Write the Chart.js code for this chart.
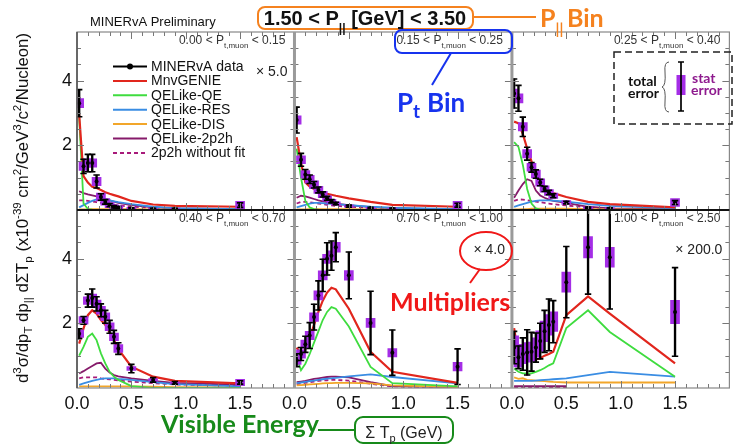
<!DOCTYPE html>
<html>
<head>
<meta charset="utf-8">
<script src="https://cdn.jsdelivr.net/npm/chart.js@4.4.1/dist/chart.umd.min.js"></script>
<style>
  html, body { margin: 0; padding: 0; background: #fff; }
  #wrap { position: relative; width: 735px; height: 445px; }
</style>
</head>
<body>
<div id="wrap"><canvas id="sumTpChart" width="735" height="445"></canvas></div>
<script>
// sum of proton kinetic energy, bin centres (GeV)
const sumTp = [0.02, 0.06, 0.10, 0.14, 0.18, 0.22, 0.26, 0.30, 0.34, 0.38, 0.5, 0.7, 0.9, 1.5];
const ptEdges = ['0.00', '0.15', '0.25', '0.40', '0.70', '1.00', '2.50'];
const multipliers = ['× 5.0', '', '', '', '× 4.0', '× 200.0'];
const xTickLabels = [0, 0.5, 1.0, 1.5];
const yTickLabels = [2, 4];
const seriesLabels = ['MINERvA data', 'MnvGENIE', 'QELike-QE', 'QELike-RES', 'QELike-DIS', 'QELike-2p2h', '2p2h without fit'];

// 0.00 < pt < 0.15 (values shown x5)
const data1     = [3.30, 1.35, 1.45, 1.45, 0.88, 0.40, 0.25, 0.15, 0.10, 0.08, 0.05, 0.03, 0.03, 0.15];
const totErr1   = [0.42, 0.22, 0.27, 0.27, 0.20, 0.10, 0.07, 0.05, 0.04, 0.03, 0.02, 0.02, 0.02, 0.07];
const statErr1  = [0.14, 0.13, 0.13, 0.13, 0.13, 0.12, 0.10, 0.08, 0.06, 0.05, 0.03, 0.02, 0.02, 0.12];
const genie1    = [2.95, 1.05, 0.85, 0.72, 0.68, 0.62, 0.55, 0.50, 0.46, 0.42, 0.28, 0.17, 0.13, 0.10];
const qe1       = [2.85, 0.20, 0.03, 0.01, 0, 0, 0, 0, 0, 0, 0, 0, 0, 0];
const res1      = [0.08, 0.15, 0.22, 0.28, 0.33, 0.35, 0.33, 0.30, 0.27, 0.24, 0.18, 0.10, 0.06, 0.03];
const dis1      = [0.02, 0.02, 0.02, 0.03, 0.03, 0.03, 0.03, 0.03, 0.03, 0.03, 0.03, 0.02, 0.02, 0.01];
const mec1      = [0.58, 0.52, 0.48, 0.45, 0.42, 0.38, 0.34, 0.30, 0.26, 0.22, 0.15, 0.08, 0.05, 0.03];
const mecNoFit1 = [0.30, 0.30, 0.28, 0.26, 0.24, 0.22, 0.20, 0.18, 0.16, 0.14, 0.10, 0.06, 0.04, 0.02];

// 0.15 < pt < 0.25
const data2     = [2.78, 1.55, 1.10, 0.95, 0.78, 0.62, 0.48, 0.36, 0.27, 0.20, 0.12, 0.06, 0.04, 0.15];
const totErr2   = [0.40, 0.20, 0.15, 0.13, 0.10, 0.09, 0.08, 0.06, 0.05, 0.04, 0.03, 0.02, 0.02, 0.06];
const statErr2  = [0.13, 0.12, 0.12, 0.12, 0.12, 0.11, 0.10, 0.08, 0.06, 0.05, 0.03, 0.02, 0.02, 0.12];
const genie2    = [2.25, 1.45, 0.85, 0.72, 0.65, 0.60, 0.55, 0.50, 0.47, 0.44, 0.36, 0.25, 0.16, 0.10];
const qe2       = [1.90, 1.00, 0.28, 0.08, 0.03, 0.01, 0, 0, 0, 0, 0, 0, 0, 0];
const res2      = [0.08, 0.12, 0.16, 0.20, 0.22, 0.22, 0.21, 0.20, 0.19, 0.18, 0.15, 0.10, 0.07, 0.03];
const dis2      = [0.02, 0.02, 0.02, 0.03, 0.03, 0.03, 0.03, 0.03, 0.03, 0.03, 0.03, 0.02, 0.02, 0.01];
const mec2      = [0.38, 0.44, 0.42, 0.38, 0.34, 0.30, 0.27, 0.24, 0.22, 0.20, 0.15, 0.09, 0.05, 0.02];
const mecNoFit2 = [0.20, 0.25, 0.25, 0.24, 0.22, 0.20, 0.18, 0.16, 0.14, 0.13, 0.10, 0.06, 0.04, 0.02];

// 0.25 < pt < 0.40
const data3     = [3.60, 3.45, 2.57, 1.74, 1.32, 1.11, 0.85, 0.65, 0.54, 0.44, 0.23, 0.07, 0.05, 0.23];
const totErr3   = [0.45, 0.40, 0.30, 0.20, 0.15, 0.13, 0.10, 0.08, 0.07, 0.06, 0.04, 0.02, 0.02, 0.06];
const statErr3  = [0.14, 0.14, 0.13, 0.13, 0.12, 0.12, 0.11, 0.10, 0.09, 0.08, 0.06, 0.03, 0.02, 0.12];
const genie3    = [2.73, 2.68, 2.35, 1.90, 1.50, 1.20, 0.92, 0.72, 0.60, 0.52, 0.40, 0.25, 0.18, 0.08];
const qe3       = [2.10, 1.95, 1.40, 0.65, 0.20, 0.05, 0.01, 0, 0, 0, 0, 0, 0, 0];
const res3      = [0.10, 0.14, 0.18, 0.22, 0.26, 0.28, 0.30, 0.30, 0.30, 0.29, 0.26, 0.18, 0.13, 0.05];
const dis3      = [0.02, 0.02, 0.03, 0.03, 0.04, 0.04, 0.04, 0.04, 0.04, 0.04, 0.04, 0.03, 0.02, 0.01];
const mec3      = [0.38, 0.60, 0.80, 0.95, 0.90, 0.60, 0.45, 0.38, 0.32, 0.28, 0.22, 0.10, 0.05, 0.03];
const mecNoFit3 = [0.28, 0.33, 0.32, 0.30, 0.28, 0.26, 0.24, 0.22, 0.20, 0.18, 0.14, 0.08, 0.04, 0.02];

// 0.40 < pt < 0.70
const data4     = [1.68, 2.09, 2.70, 2.78, 2.60, 2.40, 2.20, 1.89, 1.58, 1.22, 0.60, 0.25, 0.16, 0.17];
const totErr4   = [0.15, 0.12, 0.20, 0.28, 0.22, 0.20, 0.20, 0.20, 0.20, 0.18, 0.13, 0.07, 0.04, 0.05];
const statErr4  = [0.12, 0.12, 0.12, 0.12, 0.12, 0.12, 0.12, 0.12, 0.12, 0.12, 0.06, 0.04, 0.03, 0.10];
const genie4    = [1.37, 1.84, 2.25, 2.40, 2.30, 2.10, 1.95, 1.72, 1.48, 1.20, 0.66, 0.35, 0.22, 0.14];
const qe4       = [1.00, 1.27, 1.58, 1.68, 1.48, 1.07, 0.76, 0.50, 0.35, 0.25, 0.06, 0, 0, 0];
const res4      = [0.10, 0.14, 0.18, 0.22, 0.25, 0.28, 0.30, 0.30, 0.30, 0.28, 0.25, 0.18, 0.12, 0.05];
const dis4      = [0.05, 0.05, 0.05, 0.05, 0.05, 0.05, 0.05, 0.05, 0.05, 0.05, 0.05, 0.04, 0.03, 0.02];
const mec4      = [0.45, 0.52, 0.60, 0.68, 0.76, 0.78, 0.60, 0.48, 0.40, 0.36, 0.30, 0.22, 0.16, 0.10];
const mecNoFit4 = [0.30, 0.33, 0.33, 0.33, 0.33, 0.30, 0.28, 0.27, 0.25, 0.23, 0.20, 0.15, 0.11, 0.07];

// 0.70 < pt < 1.00 (values shown x4)
const data5     = [0.86, 1.05, 1.35, 1.62, 2.19, 2.86, 3.48, 3.99, 4.09, 4.35, 3.48, 2.01, 1.09, 0.66];
const totErr5   = [0.20, 0.20, 0.25, 0.40, 0.40, 0.45, 0.50, 0.50, 0.45, 0.45, 0.72, 0.98, 0.70, 0.55];
const statErr5  = [0.13, 0.13, 0.13, 0.13, 0.13, 0.14, 0.14, 0.14, 0.15, 0.15, 0.15, 0.14, 0.13, 0.13];
const genie5    = [1.25, 1.05, 1.20, 1.55, 1.95, 2.35, 2.70, 2.95, 3.10, 3.05, 2.45, 1.12, 0.50, 0.16];
const qe5       = [0.97, 0.55, 0.75, 1.05, 1.40, 1.75, 2.10, 2.35, 2.50, 2.45, 1.90, 0.65, 0.15, 0.05];
const res5      = [0.15, 0.17, 0.19, 0.21, 0.23, 0.25, 0.27, 0.29, 0.30, 0.31, 0.36, 0.42, 0.34, 0.14];
const dis5      = [0.08, 0.09, 0.10, 0.11, 0.12, 0.13, 0.14, 0.15, 0.15, 0.16, 0.16, 0.14, 0.08, 0.03];
const mec5      = [0.18, 0.20, 0.22, 0.25, 0.28, 0.30, 0.32, 0.34, 0.35, 0.35, 0.33, 0.18, 0.06, 0.02];
const mecNoFit5 = [0.12, 0.14, 0.16, 0.18, 0.20, 0.22, 0.23, 0.24, 0.25, 0.25, 0.23, 0.13, 0.05, 0.02];

// 1.00 < pt < 2.50 (values shown x200)
const data6     = [1.25, 0.95, 1.05, 1.10, 1.12, 1.25, 1.45, 1.75, 1.95, 2.05, 3.27, 4.35, 4.04, 2.35];
const totErr6   = [0.50, 0.35, 0.50, 0.70, 0.60, 0.45, 0.55, 0.65, 0.80, 0.65, 1.10, 1.45, 1.60, 1.37];
const statErr6  = [0.36, 0.30, 0.30, 0.30, 0.30, 0.30, 0.32, 0.32, 0.32, 0.30, 0.31, 0.33, 0.31, 0.36];
const genie6    = [1.85, 1.00, 0.90, 0.85, 0.85, 0.88, 0.92, 1.00, 1.05, 1.12, 2.25, 2.83, 2.30, 0.76];
const qe6       = [0.60, 0.50, 0.45, 0.45, 0.45, 0.50, 0.55, 0.62, 0.70, 0.76, 1.85, 2.40, 1.73, 0.35];
const res6      = [0.22, 0.22, 0.22, 0.22, 0.22, 0.23, 0.24, 0.25, 0.26, 0.27, 0.30, 0.40, 0.50, 0.35];
const dis6      = [0.33, 0.28, 0.30, 0.25, 0.24, 0.23, 0.22, 0.21, 0.20, 0.19, 0.17, 0.17, 0.17, 0.17];
const mec6      = [0.06, 0.06, 0.06, 0.06, 0.06, 0.06, 0.06, 0.06, 0.06, 0.06, 0.06, null, null, null];
const mecNoFit6 = [0.03, 0.03, 0.03, 0.03, 0.03, 0.03, 0.03, 0.03, 0.03, 0.03, 0.03, null, null, null];

const panels = [
  { data: data1, tot: totErr1, stat: statErr1, mc: [genie1, qe1, res1, dis1, mec1, mecNoFit1] },
  { data: data2, tot: totErr2, stat: statErr2, mc: [genie2, qe2, res2, dis2, mec2, mecNoFit2] },
  { data: data3, tot: totErr3, stat: statErr3, mc: [genie3, qe3, res3, dis3, mec3, mecNoFit3] },
  { data: data4, tot: totErr4, stat: statErr4, mc: [genie4, qe4, res4, dis4, mec4, mecNoFit4] },
  { data: data5, tot: totErr5, stat: statErr5, mc: [genie5, qe5, res5, dis5, mec5, mecNoFit5] },
  { data: data6, tot: totErr6, stat: statErr6, mc: [genie6, qe6, res6, dis6, mec6, mecNoFit6] },
];

const Y_MAX = 5.5;
const ROOT_FONT = '"Liberation Sans", Arial, sans-serif';
const NOTE_FONT = 'Lato, "Open Sans", sans-serif';
const statColor = '#a42de6';
// MnvGENIE, QE, RES, DIS, 2p2h, 2p2h without fit
const mcColors = ['#e1261d', '#3fdc3f', '#3a8de3', '#f2a62a', '#861a6a', '#a81a7a'];
const mcDash = [[], [], [], [], [], [4, 3]];

function buildDatasets() {
  const sets = [];
  panels.forEach((p, k) => {
    const xAxisID = 'x' + (k % 3);
    const yAxisID = k < 3 ? 'yT' : 'yB';
    p.mc.forEach((arr, j) => {
      sets.push({
        type: 'line', label: seriesLabels[j + 1], xAxisID, yAxisID,
        data: sumTp.map((x, i) => ({ x, y: arr[i] })),
        borderColor: mcColors[j], borderWidth: j === 0 ? 2.2 : 1.8, borderDash: mcDash[j],
        pointRadius: 0, tension: 0, fill: false, order: 10 + j,
      });
    });
    // statistical error boxes (ungrouped bars sit exactly on their bin centre)
    sets.push({
      type: 'bar', label: 'stat', xAxisID, yAxisID, grouped: false,
      data: sumTp.map((x, i) => ({ x, y: [p.data[i] - p.stat[i], p.data[i] + p.stat[i]] })),
      backgroundColor: statColor, barThickness: 9, borderWidth: 0, order: 4,
    });
    // total error bars, clipped at the top of the panel
    sets.push({
      type: 'bar', label: 'total', xAxisID, yAxisID, grouped: false,
      data: sumTp.map((x, i) => ({ x, y: [p.data[i] - p.tot[i], Math.min(p.data[i] + p.tot[i], Y_MAX)] })),
      backgroundColor: '#000', barThickness: 1.7, borderWidth: 0, order: 3,
    });
    const caps = [];
    sumTp.forEach((x, i) => {
      caps.push({ x, y: p.data[i] - p.tot[i] });
      if (p.data[i] + p.tot[i] < Y_MAX) caps.push({ x, y: p.data[i] + p.tot[i] });
    });
    sets.push({
      type: 'line', label: 'caps', xAxisID, yAxisID, data: caps, showLine: false,
      pointStyle: 'line', pointRadius: 3.2, pointBorderWidth: 1.6, pointBorderColor: '#000', order: 2,
    });
    sets.push({
      type: 'line', label: seriesLabels[0], xAxisID, yAxisID, showLine: false,
      data: sumTp.map((x, i) => ({ x, y: p.data[i] })),
      pointRadius: 2, pointBackgroundColor: '#000', pointBorderWidth: 0, order: 1,
    });
  });
  return sets;
}

const xAxis = () => ({
  type: 'linear', position: 'bottom', stack: 'cols', stackWeight: 1,
  min: 0, max: 2.0, offset: false,
  grid: { display: false, drawTicks: false },
  border: { display: false },
  afterFit: s => { s.height = 57; },
  ticks: {
    stepSize: 0.5, autoSkip: false, maxRotation: 0, padding: 5, color: '#111',
    font: { family: ROOT_FONT, size: 18 },
    callback: v => (xTickLabels.includes(v) ? v.toFixed(1) : ''),
  },
});
const yAxis = () => ({
  type: 'linear', position: 'left', stack: 'rows', stackWeight: 1, stacked: false,
  min: 0, max: Y_MAX,
  grid: { display: false, drawTicks: false },
  border: { display: false },
  afterFit: s => { s.width = 77; },
  ticks: {
    stepSize: 2, padding: 5, color: '#111',
    font: { family: ROOT_FONT, size: 18 },
    callback: v => (yTickLabels.includes(v) ? String(v) : ''),
  },
});

// helpers for text with sub/superscripts
const seg = (t, size, o = {}) => ({
  t, dy: o.dy || 0, color: o.color,
  font: `${o.bold ? 'bold ' : ''}${size}px ${o.family || ROOT_FONT}`,
});
function richWidth(ctx, segs) {
  let w = 0;
  segs.forEach(s => { ctx.font = s.font; w += ctx.measureText(s.t).width; });
  return w;
}
function drawRich(ctx, segs, x, y, align, color) {
  const w = richWidth(ctx, segs);
  let cx = align === 'right' ? x - w : align === 'center' ? x - w / 2 : x;
  ctx.textAlign = 'left';
  ctx.textBaseline = 'alphabetic';
  segs.forEach(s => {
    ctx.font = s.font;
    ctx.fillStyle = s.color || color;
    ctx.fillText(s.t, cx, y + s.dy);
    cx += ctx.measureText(s.t).width;
  });
}
function roundRect(ctx, x, y, w, h, r) {
  ctx.beginPath();
  ctx.moveTo(x + r, y);
  ctx.arcTo(x + w, y, x + w, y + h, r);
  ctx.arcTo(x + w, y + h, x, y + h, r);
  ctx.arcTo(x, y + h, x, y, r);
  ctx.arcTo(x, y, x + w, y, r);
  ctx.closePath();
}

// frames and inward tick marks of the six panels
const panelFrame = {
  id: 'panelFrame',
  afterDatasetsDraw(chart) {
    const ctx = chart.ctx;
    const cols = ['x0', 'x1', 'x2'].map(id => chart.scales[id]);
    const rows = ['yT', 'yB'].map(id => chart.scales[id]);
    ctx.save();
    ctx.strokeStyle = '#777';
    ctx.lineWidth = 1;
    rows.forEach(ys => cols.forEach(xs => {
      ctx.beginPath();
      for (let k = 1; k < 20; k++) {
        const px = Math.round(xs.getPixelForValue(k / 10)) + 0.5;
        const len = k % 5 === 0 ? 7 : 4;
        ctx.moveTo(px, ys.bottom); ctx.lineTo(px, ys.bottom - len);
        ctx.moveTo(px, ys.top); ctx.lineTo(px, ys.top + len);
      }
      for (let k = 1; k < 11; k++) {
        const py = Math.round(ys.getPixelForValue(k / 2)) + 0.5;
        const len = k % 4 === 0 ? 7 : 4;
        ctx.moveTo(xs.left, py); ctx.lineTo(xs.left + len, py);
        ctx.moveTo(xs.right, py); ctx.lineTo(xs.right - len, py);
      }
      ctx.stroke();
    }));
    const { left, right, top, bottom } = chart.chartArea;
    ctx.strokeStyle = '#888';
    ctx.lineWidth = 1.2;
    ctx.strokeRect(left, top, right - left, bottom - top);
    ctx.strokeStyle = '#555';
    ctx.lineWidth = 1.6;
    ctx.beginPath();
    ctx.moveTo(left, top); ctx.lineTo(left, bottom);
    ctx.stroke();
    // column separators
    ctx.strokeStyle = '#9a9a9a';
    ctx.lineWidth = 3;
    ctx.beginPath();
    [cols[0].right, cols[1].right].forEach(x => { ctx.moveTo(x, top); ctx.lineTo(x, bottom); });
    ctx.stroke();
    // row separator
    ctx.strokeStyle = '#111';
    ctx.lineWidth = 2;
    ctx.beginPath();
    ctx.moveTo(left, rows[0].bottom); ctx.lineTo(right, rows[0].bottom);
    ctx.stroke();
    ctx.restore();
  },
};

const labelsAndNotes = {
  id: 'labelsAndNotes',
  afterDraw(chart) {
    const ctx = chart.ctx;
    const cols = ['x0', 'x1', 'x2'].map(id => chart.scales[id]);
    const rows = ['yT', 'yB'].map(id => chart.scales[id]);
    ctx.save();

    // pt bin label and multiplier of each panel
    panels.forEach((p, k) => {
      const xs = cols[k % 3], ys = rows[k < 3 ? 0 : 1];
      drawRich(ctx, [
        seg(`${ptEdges[k]} < P`, 12),
        seg('t,muon', 8, { dy: 3.5 }),
        seg(` < ${ptEdges[k + 1]}`, 12),
      ], xs.right - 9, ys.top + 12, 'right', '#333');
      if (multipliers[k]) {
        drawRich(ctx, [seg(multipliers[k], 14)], xs.right - 7, ys.top + 44, 'right', '#222');
      }
    });

    // legend inside the first panel
    const lx = 113, ly = 71, dy = 14.4;
    seriesLabels.forEach((lab, j) => {
      const y = ly + j * dy;
      ctx.beginPath();
      ctx.moveTo(lx, y - 4.5); ctx.lineTo(lx + 34, y - 4.5);
      ctx.lineWidth = 2;
      ctx.strokeStyle = j === 0 ? '#000' : mcColors[j - 1];
      ctx.setLineDash(j === 0 ? [] : mcDash[j - 1]);
      ctx.stroke();
      ctx.setLineDash([]);
      if (j === 0) {
        ctx.beginPath();
        ctx.arc(lx + 17, y - 4.5, 3, 0, Math.PI * 2);
        ctx.fillStyle = '#000';
        ctx.fill();
      }
      drawRich(ctx, [seg(lab, 14)], lx + 38, y, 'left', '#111');
    });

    drawRich(ctx, [seg('MINERvA Preliminary', 13)], 90, 26, 'left', '#111');

    // y axis title
    ctx.save();
    ctx.translate(28, 208);
    ctx.rotate(-Math.PI / 2);
    drawRich(ctx, [
      seg('d', 16.8), seg('3', 11.5, { dy: -7 }), seg('σ/dp', 16.8), seg('T', 11.5, { dy: 4 }),
      seg(' dp', 16.8), seg('||', 11.5, { dy: 4 }), seg(' dΣT', 16.8), seg('p', 11.5, { dy: 4 }),
      seg(' (x10', 16.8), seg('-39', 11.5, { dy: -7 }), seg(' cm', 16.8), seg('2', 11.5, { dy: -7 }),
      seg('/GeV', 16.8), seg('3', 11.5, { dy: -7 }), seg('/c', 16.8), seg('2', 11.5, { dy: -7 }),
      seg('/Nucleon)', 16.8),
    ], 0, 0, 'center', '#111');
    ctx.restore();

    // P|| bin
    const orange = '#f5821f';
    ctx.lineWidth = 2;
    ctx.strokeStyle = orange;
    roundRect(ctx, 258, 7, 215, 22, 7);
    ctx.stroke();
    drawRich(ctx, [
      seg('1.50 < P', 20, { bold: true }), seg('||', 12, { bold: true, dy: 7 }),
      seg(' [GeV] < 3.50', 20, { bold: true }),
    ], 365, 25, 'center', '#111');
    ctx.beginPath();
    ctx.moveTo(473, 17); ctx.lineTo(536, 17);
    ctx.stroke();
    drawRich(ctx, [seg('P', 25, { bold: true, family: NOTE_FONT }), seg('||', 15, { bold: true, family: NOTE_FONT, dy: 7 })], 540, 27, 'left', orange);
    drawRich(ctx, [seg('Bin', 25, { bold: true, family: NOTE_FONT })], 567, 27, 'left', orange);

    // pt bin
    const blue = '#1733ee';
    ctx.strokeStyle = blue;
    roundRect(ctx, 395, 30, 117, 23, 7);
    ctx.stroke();
    ctx.beginPath();
    ctx.moveTo(451, 53); ctx.lineTo(432, 85);
    ctx.stroke();
    drawRich(ctx, [seg('P', 26, { bold: true, family: NOTE_FONT }), seg('t', 19, { bold: true, family: NOTE_FONT, dy: 6 })], 397, 112, 'left', blue);
    drawRich(ctx, [seg('Bin', 26, { bold: true, family: NOTE_FONT })], 427, 112, 'left', blue);

    // multipliers
    const red = '#f01818';
    ctx.strokeStyle = red;
    ctx.beginPath();
    ctx.ellipse(486, 251, 26, 19, 0, 0, Math.PI * 2);
    ctx.stroke();
    ctx.beginPath();
    ctx.moveTo(480, 269); ctx.lineTo(470, 283);
    ctx.stroke();
    drawRich(ctx, [seg('Multipliers', 25, { bold: true, family: NOTE_FONT })], 390, 311, 'left', red);

    // error key
    ctx.strokeStyle = '#222';
    ctx.lineWidth = 1.5;
    ctx.setLineDash([7, 4]);
    ctx.strokeRect(614, 52, 118, 72);
    ctx.setLineDash([]);
    drawRich(ctx, [seg('total', 14, { bold: true, family: NOTE_FONT })], 628, 86, 'left', '#111');
    drawRich(ctx, [seg('error', 14, { bold: true, family: NOTE_FONT })], 628, 98, 'left', '#111');
    ctx.strokeStyle = '#555';
    ctx.lineWidth = 1;
    ctx.beginPath();
    ctx.moveTo(669, 62);
    ctx.quadraticCurveTo(664, 62, 665, 72);
    ctx.quadraticCurveTo(666, 86, 662, 87);
    ctx.quadraticCurveTo(666, 88, 665, 102);
    ctx.quadraticCurveTo(664, 112, 669, 112);
    ctx.stroke();
    ctx.fillStyle = statColor;
    ctx.fillRect(676.5, 75, 9, 20);
    ctx.strokeStyle = '#000';
    ctx.lineWidth = 1.7;
    ctx.beginPath();
    ctx.moveTo(681, 62); ctx.lineTo(681, 111);
    ctx.moveTo(678, 62); ctx.lineTo(684, 62);
    ctx.moveTo(678, 111); ctx.lineTo(684, 111);
    ctx.stroke();
    drawRich(ctx, [seg('stat', 14, { bold: true, family: NOTE_FONT })], 692, 83, 'left', '#8e1a8e');
    drawRich(ctx, [seg('error', 14, { bold: true, family: NOTE_FONT })], 691, 95, 'left', '#8e1a8e');

    // visible energy
    const green = '#178a1a';
    drawRich(ctx, [seg('Visible Energy', 25, { bold: true, family: NOTE_FONT })], 161, 433, 'left', green);
    ctx.strokeStyle = green;
    ctx.lineWidth = 2;
    ctx.beginPath();
    ctx.moveTo(318, 430); ctx.lineTo(355, 430);
    ctx.stroke();
    roundRect(ctx, 355, 417, 98, 26, 8);
    ctx.stroke();
    drawRich(ctx, [seg('Σ T', 16), seg('p', 11, { dy: 4 }), seg(' (GeV)', 16)], 404, 438, 'center', '#222');

    ctx.restore();
  },
};

new Chart(document.getElementById('sumTpChart'), {
  type: 'line',
  data: { datasets: buildDatasets() },
  options: {
    responsive: false,
    animation: false,
    events: [],
    layout: { padding: { top: 32, right: 2, left: 0, bottom: 0 } },
    scales: {
      x0: xAxis(), x1: xAxis(), x2: xAxis(),
      yB: yAxis(), yT: yAxis(),
    },
    plugins: { legend: { display: false }, tooltip: { enabled: false } },
  },
  plugins: [panelFrame, labelsAndNotes],
});
</script>
</body>
</html>
